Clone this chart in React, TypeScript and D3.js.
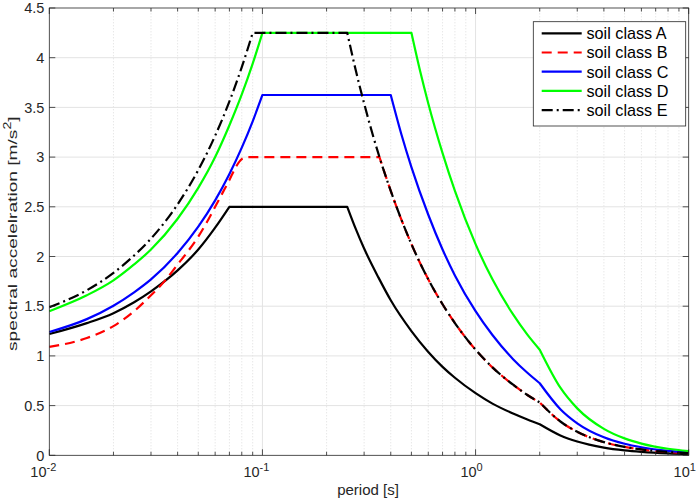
import { useEffect } from "react";
import * as d3 from "d3";

// [period s, spectral acceleration m/s^2]
const soilA: [number, number][] = [
  [0.01, 1.22], [0.015, 1.33], [0.02, 1.43], [0.025, 1.54], [0.03, 1.65], [0.04, 1.86],
  [0.05, 2.07], [0.06, 2.29], [0.07, 2.5], [0.25, 2.5], [0.275, 2.27], [0.3, 2.08],
  [0.35, 1.79], [0.4, 1.56], [0.5, 1.25], [0.6, 1.04], [0.7, 0.89], [0.8, 0.78],
  [1, 0.625], [1.2, 0.52], [1.5, 0.42], [1.75, 0.36], [2, 0.3125], [2.5, 0.2],
  [3, 0.139], [4, 0.078], [5, 0.05], [6, 0.035], [8, 0.0195], [10, 0.0125],
];
const soilB: [number, number][] = [
  [0.01, 1.09], [0.015, 1.18], [0.02, 1.3], [0.025, 1.45], [0.03, 1.61], [0.035, 1.76],
  [0.04, 1.92], [0.045, 2.06], [0.05, 2.2], [0.055, 2.35], [0.06, 2.5], [0.065, 2.64],
  [0.07, 2.77], [0.075, 2.9], [0.08, 2.98], [0.085, 3.0], [0.354, 3.0], [0.4, 2.66],
  [0.5, 2.125], [0.6, 1.77], [0.7, 1.52], [0.8, 1.33], [1, 1.0625], [1.2, 0.885],
  [1.5, 0.71], [1.75, 0.607], [2, 0.531], [2.5, 0.34], [3, 0.236], [4, 0.133],
  [5, 0.085], [6, 0.059], [8, 0.033], [10, 0.021],
];
const soilC: [number, number][] = [
  [0.01, 1.24], [0.015, 1.37], [0.02, 1.505], [0.025, 1.64], [0.03, 1.77], [0.04, 2.035],
  [0.05, 2.3], [0.06, 2.565], [0.07, 2.83], [0.08, 3.095], [0.09, 3.36], [0.1, 3.625],
  [0.4, 3.625], [0.45, 3.22], [0.5, 2.9], [0.6, 2.42], [0.7, 2.07], [0.8, 1.81],
  [1, 1.45], [1.2, 1.21], [1.5, 0.967], [1.75, 0.83], [2, 0.725], [2.5, 0.464],
  [3, 0.322], [4, 0.181], [5, 0.116], [6, 0.081], [8, 0.045], [10, 0.029],
];
const soilD: [number, number][] = [
  [0.01, 1.45], [0.015, 1.61], [0.02, 1.76], [0.025, 1.92], [0.03, 2.07], [0.04, 2.38],
  [0.05, 2.69], [0.06, 3.0], [0.07, 3.32], [0.08, 3.63], [0.09, 3.94], [0.1, 4.25],
  [0.5, 4.25], [0.55, 3.86], [0.6, 3.54], [0.7, 3.04], [0.8, 2.66], [1, 2.125],
  [1.2, 1.77], [1.5, 1.417], [1.75, 1.214], [2, 1.0625], [2.5, 0.68], [3, 0.472],
  [4, 0.266], [5, 0.17], [6, 0.118], [8, 0.066], [10, 0.0425],
];
const soilE: [number, number][] = [
  [0.01, 1.49], [0.015, 1.66], [0.02, 1.835], [0.025, 2.01], [0.03, 2.18], [0.04, 2.525],
  [0.05, 2.87], [0.06, 3.215], [0.07, 3.56], [0.08, 3.905], [0.09, 4.25], [0.25, 4.25],
  [0.275, 3.86], [0.3, 3.54], [0.354, 3.0], [0.4, 2.66], [0.5, 2.125], [0.6, 1.77],
  [0.7, 1.52], [0.8, 1.33], [1, 1.0625], [1.2, 0.885], [1.5, 0.71], [1.75, 0.607],
  [2, 0.531], [2.5, 0.34], [3, 0.236], [4, 0.133], [5, 0.085], [6, 0.059],
  [8, 0.033], [10, 0.021],
];

const seriesNames = ["soil class A", "soil class B", "soil class C", "soil class D", "soil class E"];
const seriesData = [soilA, soilB, soilC, soilD, soilE];
const seriesColors = ["#000000", "#ff0000", "#0000ff", "#00ff00", "#000000"];
const seriesDash = [null, "10,6", null, null, "11,4,2,4"];
const kinkPeriods = [2]; // slope change of the spectra
const yTickValues = [0, 0.5, 1, 1.5, 2, 2.5, 3, 3.5, 4, 4.5];
const decadeExponents = [-2, -1, 0, 1];

const W = 699;
const H = 500;
const margin = { top: 8, right: 10.3, bottom: 44.7, left: 49.3 };
const FONT = "'Liberation Sans', Arial, Helvetica, sans-serif";
const INK = "#262626";

// split at plateau edges and kinks so corners stay sharp
function splitRuns(pts: [number, number][]) {
  const segs: [number, number][][] = [];
  let cur: [number, number][] = [pts[0]];
  for (let i = 1; i < pts.length; i++) {
    cur.push(pts[i]);
    if (i === pts.length - 1) break;
    const flatPrev = pts[i][1] === pts[i - 1][1];
    const flatNext = pts[i + 1][1] === pts[i][1];
    if (flatPrev !== flatNext || kinkPeriods.includes(pts[i][0])) {
      segs.push(cur);
      cur = [pts[i]];
    }
  }
  segs.push(cur);
  return segs;
}

export default function App() {
  useEffect(() => {
    document.body.style.margin = "0";
  }, []);

  const x = d3
    .scaleLog()
    .domain([0.01, 10])
    .range([margin.left, W - margin.right]);
  const y = d3
    .scaleLinear()
    .domain([0, 4.5])
    .range([H - margin.bottom, margin.top]);

  const x0 = margin.left;
  const x1 = W - margin.right;
  const y0 = H - margin.bottom;
  const y1 = margin.top;

  const majors = decadeExponents.map((e) => Math.pow(10, e));
  const minors: number[] = [];
  decadeExponents.slice(0, -1).forEach((e) => {
    for (let k = 2; k <= 9; k++) minors.push(k * Math.pow(10, e));
  });

  const line = d3
    .line<[number, number]>()
    .x((d) => x(d[0]))
    .y((d) => y(d[1]))
    .curve(d3.curveMonotoneX);

  const pathFor = (pts: [number, number][]) =>
    splitRuns(pts)
      .map((seg, i) => {
        const s = line(seg) || "";
        return i === 0 ? s : "L" + s.slice(1);
      })
      .join("");

  const legend = { x: 533.3, y: 21.7, w: 152.4, h: 104.3, row: 19.2, first: 33.3 };

  return (
    <svg width={W} height={H} style={{ display: "block", background: "#fff" }} fontFamily={FONT}>
      <rect x={x0} y={y1} width={x1 - x0} height={y0 - y1} fill="#fff" />
      {/* minor grid */}
      {minors.map((v) => (
        <line key={"mg" + v} x1={x(v)} x2={x(v)} y1={y0} y2={y1} stroke="#cfcfcf" strokeWidth={0.7} strokeDasharray="1,2" />
      ))}
      {/* major grid */}
      {majors.slice(1, -1).map((v) => (
        <line key={"gx" + v} x1={x(v)} x2={x(v)} y1={y0} y2={y1} stroke="#e3e3e3" strokeWidth={1} />
      ))}
      {yTickValues.slice(1, -1).map((v) => (
        <line key={"gy" + v} x1={x0} x2={x1} y1={y(v)} y2={y(v)} stroke="#e3e3e3" strokeWidth={1} />
      ))}

      {/* curves */}
      <g fill="none">
        {seriesData.map((pts, i) => (
          <path
            key={seriesNames[i]}
            d={pathFor(pts)}
            stroke={seriesColors[i]}
            strokeWidth={2.2}
            strokeDasharray={seriesDash[i] || undefined}
            strokeLinejoin="round"
          />
        ))}
      </g>

      {/* axes box and inward ticks */}
      <rect x={x0} y={y1} width={x1 - x0} height={y0 - y1} fill="none" stroke={INK} strokeWidth={0.8} />
      {majors.map((v) => (
        <g key={"tx" + v} stroke={INK} strokeWidth={0.8}>
          <line x1={x(v)} x2={x(v)} y1={y0} y2={y0 - 6} />
          <line x1={x(v)} x2={x(v)} y1={y1} y2={y1 + 6} />
        </g>
      ))}
      {minors.map((v) => (
        <g key={"mx" + v} stroke={INK} strokeWidth={0.8}>
          <line x1={x(v)} x2={x(v)} y1={y0} y2={y0 - 3.5} />
          <line x1={x(v)} x2={x(v)} y1={y1} y2={y1 + 3.5} />
        </g>
      ))}
      {yTickValues.map((v) => (
        <g key={"ty" + v} stroke={INK} strokeWidth={0.8}>
          <line x1={x0} x2={x0 + 6} y1={y(v)} y2={y(v)} />
          <line x1={x1} x2={x1 - 6} y1={y(v)} y2={y(v)} />
        </g>
      ))}

      {/* tick labels */}
      {yTickValues.map((v) => (
        <text key={"ly" + v} x={x0 - 5} y={y(v)} dy="0.36em" textAnchor="end" fontSize={14.5} fill={INK}>
          {String(v)}
        </text>
      ))}
      {decadeExponents.map((e) => (
        <text key={"lx" + e} x={x(Math.pow(10, e)) - (e < 0 ? 6 : 4)} y={477} textAnchor="middle" fontSize={14.5} fill={INK}>
          10
          <tspan dy={-6.5} fontSize={11}>
            {e < 0 ? "-" + -e : String(e)}
          </tspan>
        </text>
      ))}

      {/* axis labels */}
      <text x={368} y={495} textAnchor="middle" fontSize={15} fill={INK}>
        period [s]
      </text>
      <text
        transform={`translate(16.5,${(y0 + y1) / 2 + 2}) rotate(-90) scale(1.42,1)`}
        textAnchor="middle"
        fontSize={13.5}
        fill={INK}
      >
        spectral accelelration [m/s
        <tspan dy={-6} fontSize={10}>2</tspan>
        <tspan dy={6}>]</tspan>
      </text>

      {/* legend */}
      <rect x={legend.x} y={legend.y} width={legend.w} height={legend.h} fill="#fff" stroke={INK} strokeWidth={0.8} />
      {seriesNames.map((name, i) => {
        const ly = legend.first + i * legend.row;
        return (
          <g key={"lg" + name}>
            <line
              x1={541.7}
              x2={581.7}
              y1={ly}
              y2={ly}
              stroke={seriesColors[i]}
              strokeWidth={2.2}
              strokeDasharray={seriesDash[i] || undefined}
            />
            <text x={586.5} y={ly} dy="0.36em" fontSize={16.2} fill="#000">
              {name}
            </text>
          </g>
        );
      })}
    </svg>
  );
}
